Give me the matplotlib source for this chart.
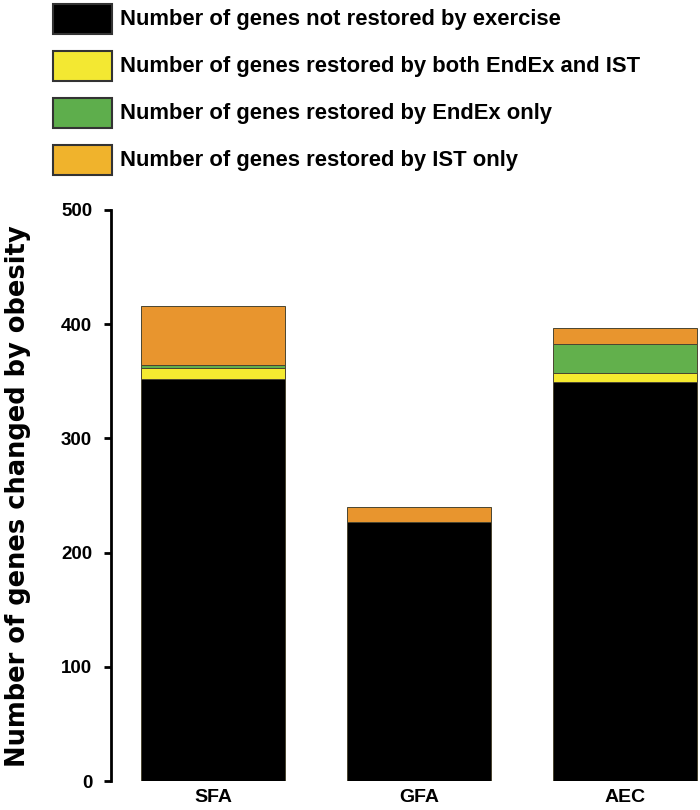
import matplotlib
matplotlib.use("Agg")
import matplotlib.pyplot as plt
from matplotlib.patches import Rectangle
import numpy as np

categories = ['SFA', 'GFA', 'AEC']
not_restored = [352, 227, 349]
restored_both = [10, 0, 8]
restored_endex = [2, 0, 26]
restored_ist = [52, 13, 14]

series_labels = ['Number of genes not restored by exercise',
                 'Number of genes restored by both EndEx and IST',
                 'Number of genes restored by EndEx only',
                 'Number of genes restored by IST only']
bar_colors = ['#000000', '#f5ea30', '#62b04c', '#e8952e']
legend_colors = ['#000000', '#f3e832', '#5eae4c', '#f0b32c']
yticks = [0, 100, 200, 300, 400, 500]

W, H = 700, 810
fig = plt.figure(figsize=(W / 100, H / 100), dpi=100)
ax = fig.add_axes([111 / W, (H - 781) / H, (700 - 111) / W, 571 / H])

x = np.arange(len(categories))
bottom = np.zeros(len(categories))
for vals, col in zip([not_restored, restored_both, restored_endex, restored_ist], bar_colors):
    vals = np.array(vals, dtype=float)
    ax.bar(x, vals, bottom=bottom, width=0.70, color=col,
           edgecolor='#4a4530', linewidth=0.7)
    bottom += vals

ax.set_xlim(-0.495, 2.364)
ax.set_ylim(0, 500)
ax.set_yticks(yticks)
ax.set_xticks(x)
ax.set_xticklabels(categories)
for s in ['top', 'right', 'bottom']:
    ax.spines[s].set_visible(False)
ax.spines['left'].set_linewidth(2)
ax.tick_params(axis='y', direction='out', length=5, width=2, pad=8.5,
               labelsize=13.5)
ax.tick_params(axis='x', length=0, pad=6, labelsize=14)
for lab in ax.get_yticklabels() + ax.get_xticklabels():
    lab.set_fontweight('bold')
    lab.set_family(['Liberation Sans', 'DejaVu Sans'])

fig.text(18 / W, 1 - 496 / H, 'Number of genes changed by obesity',
         rotation=90, ha='center', va='center', fontsize=18.5,
         fontweight='bold', family=['DejaVu Sans'])

tops = [4, 51, 98, 145]
for top, col, lab in zip(tops, legend_colors, series_labels):
    fig.patches.append(Rectangle((53 / W, 1 - (top + 29.5) / H), 59 / W, 29.5 / H,
                                 transform=fig.transFigure, facecolor=col,
                                 edgecolor='#333333', linewidth=1.5))
    fig.text(120 / W, 1 - (top + 15.5) / H, lab, ha='left', va='center',
             fontsize=15.8, fontweight='bold',
             family=['Liberation Sans', 'DejaVu Sans'])

fig.savefig('out.png', dpi=100)
